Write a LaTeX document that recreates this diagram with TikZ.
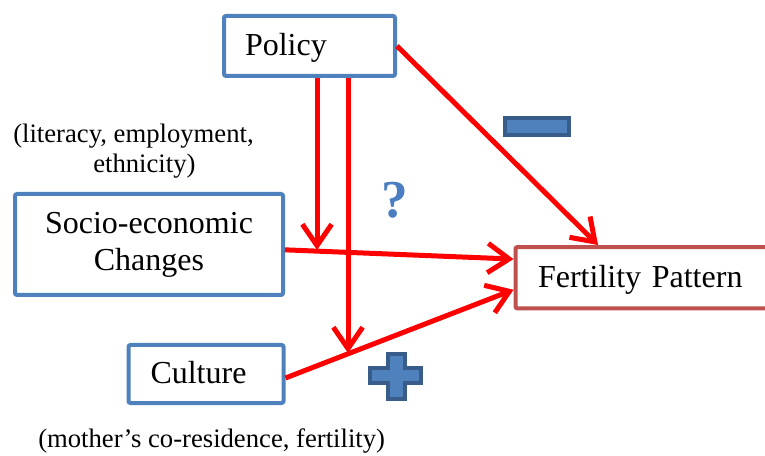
\documentclass[tikz,border=0pt]{standalone}
\usepackage{fontspec}
\setmainfont{Liberation Serif}
\usetikzlibrary{arrows.meta}
\definecolor{boxblue}{HTML}{4F81BD}
\definecolor{boxred}{HTML}{C0504D}
\definecolor{signdark}{HTML}{385D8A}
\definecolor{signfill}{HTML}{4F81BD}
\definecolor{arrred}{HTML}{FF0000}
\definecolor{qblue}{HTML}{4A7EC0}
\begin{document}
\begin{tikzpicture}[x=0.75pt,y=-0.75pt,
  box/.style={draw=boxblue,line width=3pt,rounded corners=1.5pt,fill=white,
    font=\fontsize{24pt}{27.6pt}\selectfont,inner ysep=0pt},
  oneline/.style={text height=19pt,text depth=5pt},
  arr/.style={draw=arrred,line width=3.75pt,-{Straight Barb[length=16pt,width=22pt]}},
  lbl/.style={font=\fontsize{20pt}{22.5pt}\selectfont,inner sep=0pt,anchor=west,align=left},
  sign/.style={draw=signdark,line width=3pt,fill=signfill}]
\useasboundingbox (0,0) rectangle (765,456);
\clip (0,0) rectangle (765,456);
\node[box,oneline,minimum width=128.25pt,minimum height=45pt,text width=96.75pt,inner xsep=15.75pt,align=left] (policy) at (309.5,46) {Policy};
\node[box,minimum width=201pt,minimum height=75.75pt,align=center] (socio) at (149,244.5) {Socio-economic\\Changes};
\node[box,oneline,minimum width=116.25pt,minimum height=43.5pt,text width=83.25pt,inner xsep=16.5pt,align=left] (culture) at (206,374) {Culture};
\node[box,oneline,draw=boxred,minimum width=194.6pt,minimum height=46.1pt,text width=160.8pt,inner xsep=16.9pt,align=left] (fert) at (645.25,277.75) {Fertility Pattern};
\coordinate (t1) at (317,250);
\coordinate (t2) at (348,353);
\draw[arr] (policy.east) -- ([xshift=63.4pt]fert.north west);
\draw[arr] (policy.south -| t1) -- (t1);
\draw[arr] (policy.south -| t2) -- (t2);
\draw[arr] ([yshift=-4pt]socio.east) -- ([yshift=14pt]fert.west);
\draw[arr] ([yshift=-3pt]culture.east) -- ([yshift=-9pt]fert.west);
\node[font=\fontsize{40pt}{40pt}\selectfont\bfseries,text=qblue,inner sep=0pt] (q) at (395,200) {?};
\node[sign,minimum width=48pt,minimum height=12.75pt,inner sep=0pt] (minus) at (537,126.5) {};
\draw[sign] (388,354) -- (405,354) -- (405,368) -- (421,368) -- (421,383) -- (405,383) -- (405,399) -- (388,399) -- (388,383) -- (370,383) -- (370,368) -- (388,368) -- cycle;
\node[lbl] (lit) at (13,150.7) {(literacy, employment,\\\hspace*{60pt}ethnicity)};
\node[lbl] (mot) at (38,441) {(mother’s co-residence, fertility)};
\end{tikzpicture}
\end{document}
